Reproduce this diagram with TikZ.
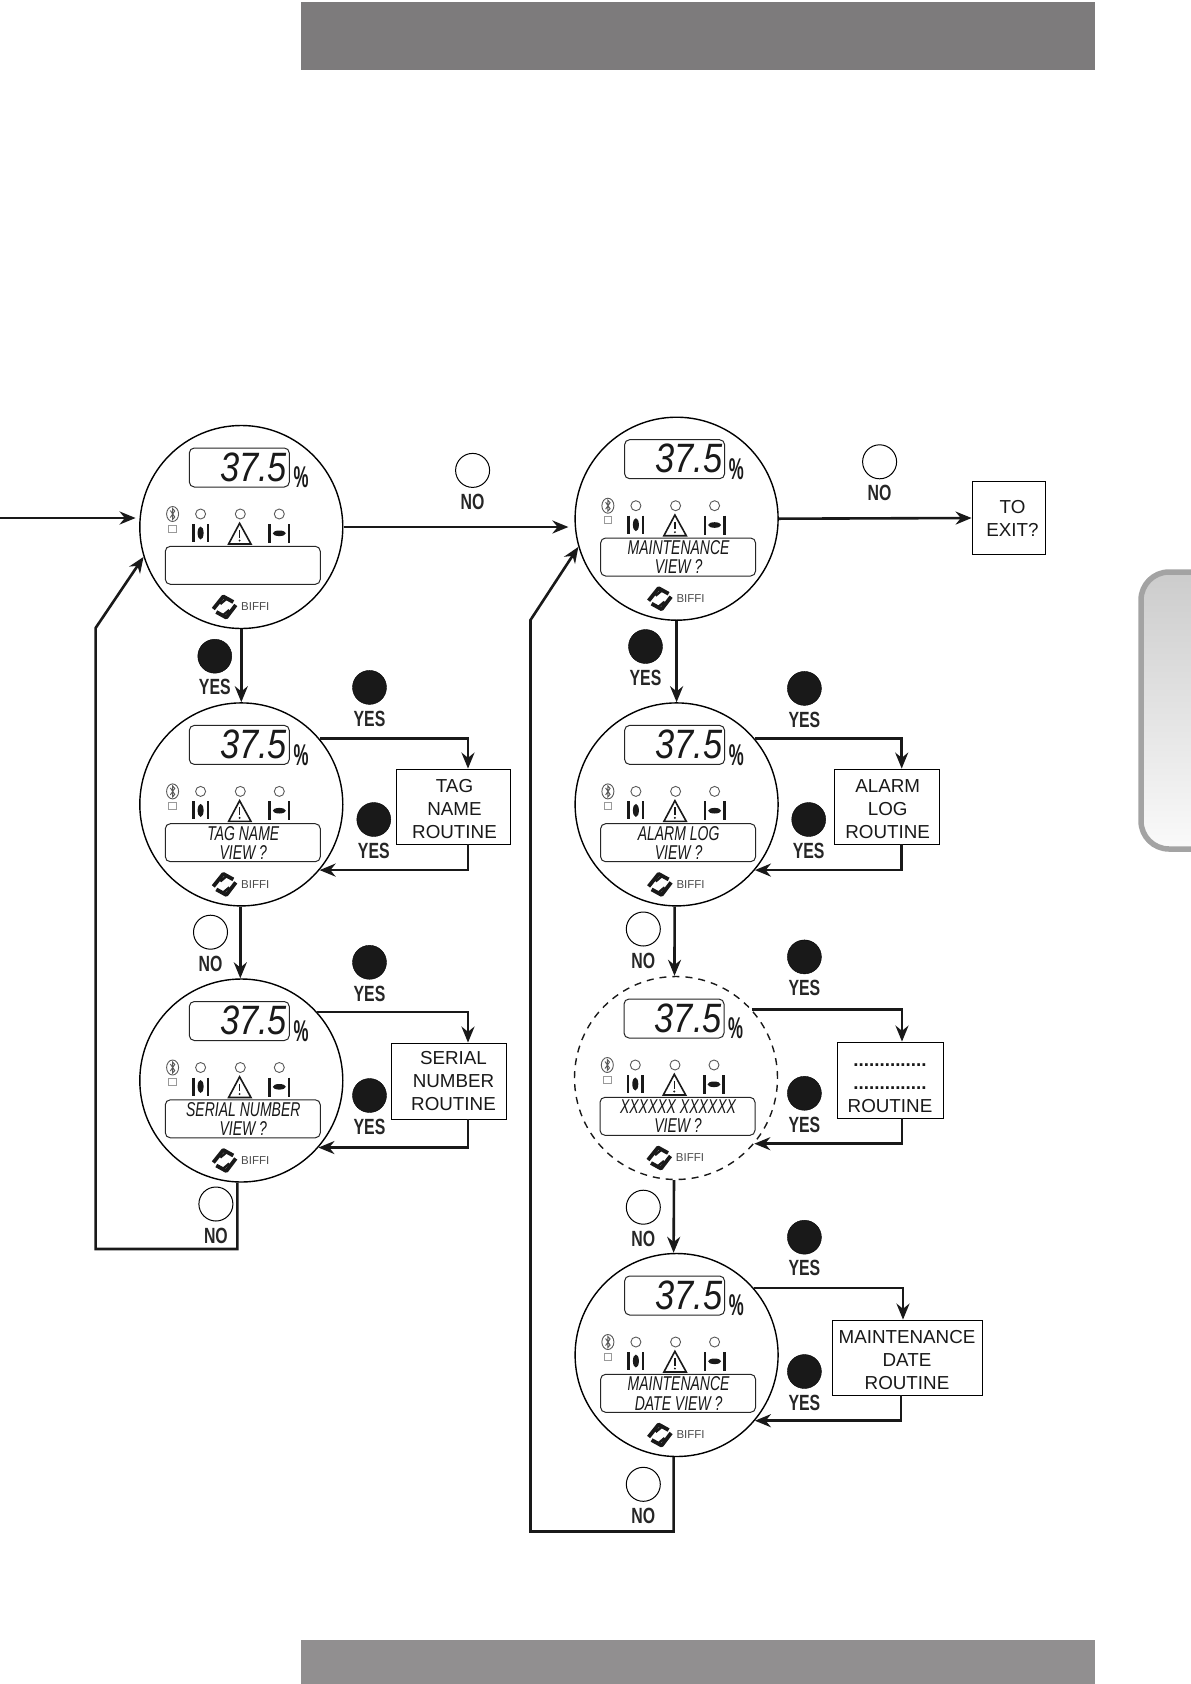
\documentclass[tikz,border=0pt]{standalone}
\usepackage{fontspec}
\setmainfont{Liberation Sans}
\newfontfamily\lcdfont[FakeStretch=0.7,UprightFont=* Italic]{Liberation Sans}
\newfontfamily\readoutfont[FakeStretch=0.84,UprightFont=* Italic]{Liberation Sans}
\newfontfamily\answerfont[FakeStretch=0.72,UprightFont=* Bold]{Liberation Sans}
\newfontfamily\unitfont[FakeStretch=0.56,UprightFont=* Bold]{Liberation Sans}
\usetikzlibrary{arrows.meta, calc}
\definecolor{banner}{HTML}{7D7B7C}
\definecolor{tabedge}{HTML}{A3A3A3}
\newcommand{\boxtop}{\rule{0pt}{17.5pt}}
\tikzset{
    dialface/.style={
        circle,
        draw=black,
        fill=white,
        line width=1.4pt,
        minimum size=203pt,
        inner sep=0pt
    },
    lcd/.style={
        draw=black!85,
        line width=1pt,
        rounded corners=5pt
    },
    led/.style={
        draw=black!65,
        line width=0.9pt
    },
    icon/.style={
        draw=black!90,
        line width=2.5pt
    },
    yesdot/.style={
        circle,
        draw=black,
        fill=black!90,
        minimum size=34pt,
        inner sep=0pt,
        label={[answer,label distance=6pt]below:YES}
    },
    nodot/.style={
        circle,
        draw=black,
        fill=white,
        line width=1pt,
        minimum size=34pt,
        inner sep=0pt,
        label={[answer,label distance=6pt]below:NO}
    },
    answer/.style={
        font=\answerfont\fontsize{22}{22}\selectfont,
        text=black!85,
        inner sep=0pt
    },
    routine/.style={
        draw=black,
        fill=white,
        line width=0.8pt,
        align=center,
        inner sep=0pt,
        text=black!90,
        font=\fontsize{18.8}{23}\selectfont
    },
    flow/.style={
        -{Stealth[length=16pt,width=13pt]},
        line width=2.6pt,
        draw=black!90,
        line join=miter
    },
    pics/dial/.style 2 args={
        code={
            \node[dialface] (-face) at (0,0) {};
            \draw[lcd] (-52,-79) rectangle (48,-40);
            \node[anchor=base east, font=\readoutfont\fontsize{41}{41}\selectfont, text=black!90, inner sep=0pt] (-value) at (46,-46) {37.5};
            \node[font=\unitfont\fontsize{30}{30}\selectfont, text=black!90, inner sep=0pt] (-unit) at (59.7,-49.7) {\%};
            % status row
            \draw[led] (-68.7,-13) ellipse (6 and 7.5);
            \draw[led] (-71,-16.5) -- (-66.5,-10) -- (-68.7,-7.5) -- (-68.7,-18.5) -- (-66.5,-16) -- (-71,-9.5);
            \draw[led, draw=black!40] (-72.5,-2) rectangle (-65,5);
            \draw[led] (-40.7,-13) circle (5);
            \draw[led] (-1,-13) circle (5);
            \draw[led] (38,-13) circle (5);
            \draw[icon] (-48,-3) -- (-48,15);
            \draw[icon] (-33.5,-3) -- (-33.5,15);
            \fill[black!90] (-40.7,6) ellipse (3 and 6.5);
            \draw[icon, line width=1.6pt, line join=miter] (-1.7,-3.7) -- (9.7,17) -- (-12.7,17) -- cycle;
            \draw[icon, line width=1.4pt] (-1.7,3) -- (-1.7,10.5);
            \fill[black!90] (-1.7,13.5) circle (1.1);
            \draw[icon] (28.3,-3) -- (28.3,16);
            \draw[icon] (47.7,-3) -- (47.7,16);
            \fill[black!90] (38,6.3) ellipse (6.5 and 2.8);
            % message window
            \draw[lcd] (-76,19.3) rectangle (79,57.3);
            \node[font=\lcdfont\fontsize{20}{20}\selectfont, text=black!90, inner sep=0pt] (-top) at (2,29) {#1};
            \node[font=\lcdfont\fontsize{20}{20}\selectfont, text=black!90, inner sep=0pt] (-bottom) at (2,48) {#2};
            % logo
            \draw[black!90, line width=3.8pt, line join=round] (-28,82) -- (-18,69.5) -- (-8,75);
            \draw[black!90, line width=3.8pt, line join=round] (-5.5,78) -- (-15,90.5) -- (-25,85);
            \draw[black!90, line width=2.4pt] (-21,77) -- (-15,72);
            \draw[black!90, line width=2.4pt] (-12,83) -- (-18,88);
            \node[font=\fontsize{11.5}{12}\selectfont, text=black!70, inner sep=0pt] (-brand) at (14,80) {BIFFI};
        }
    }
}

\begin{document}
\begin{tikzpicture}[x=1pt,y=-1pt]
    \useasboundingbox (0,0) rectangle (1191,1684);

    % page furniture
    \fill[banner] (301,2) rectangle (1095,70);
    \fill[banner!85!white] (301,1640) rectangle (1095,1684);
    \draw[tabedge, line width=5.5pt, top color=black!20, bottom color=black!2, rounded corners=28pt] (1200,572) -- (1141,572) -- (1141,849) -- (1200,849);

    % dials
    \pic (status) at (241.3,527) {dial={}{}};
    \pic (tag) at (241.3,804.4) {dial={TAG NAME}{VIEW ?}};
    \pic (serial) at (241.3,1080.5) {dial={SERIAL NUMBER}{VIEW ?}};
    \pic (maint) at (676.6,518.7) {dial={MAINTENANCE}{VIEW ?}};
    \pic (alarm) at (676.6,804.4) {dial={ALARM LOG}{VIEW ?}};
    \pic[dialface/.append style={dashed, draw=black!90, dash pattern=on 7pt off 6pt}] (custom) at (676,1078) {dial={XXXXXX XXXXXX}{VIEW ?}};
    \pic (date) at (676.6,1355) {dial={MAINTENANCE}{DATE VIEW ?}};

    % routine boxes
    \node[routine, minimum width=114pt, minimum height=75pt] (tagbox) at (453,806.5) {\boxtop\hspace*{3pt}TAG\\\hspace*{3pt}NAME\\\hspace*{3pt}ROUTINE};
    \node[routine, minimum width=115pt, minimum height=76pt] (serialbox) at (448.5,1081) {\hspace*{10pt}SERIAL\\\hspace*{10pt}NUMBER\\\hspace*{10pt}ROUTINE};
    \node[routine, minimum width=104.5pt, minimum height=75pt] (alarmbox) at (886.7,806.5) {\boxtop\hspace*{2pt}ALARM\\\hspace*{2pt}LOG\\\hspace*{2pt}ROUTINE};
    \node[routine, minimum width=106pt, minimum height=76pt] (custombox) at (890,1080) {\rule{0pt}{19.5pt}\textbf{..............}\\\textbf{..............}\\ROUTINE};
    \node[routine, minimum width=150pt, minimum height=75pt] (datebox) at (907,1357.5) {\boxtop MAINTENANCE\\DATE\\ROUTINE};
    \node[routine, minimum width=73pt, minimum height=73pt] (exitbox) at (1008.5,518) {\hspace*{8pt}TO\\\hspace*{8pt}EXIT?};

    % push button marks
    \node[yesdot] (yes1) at (214.8,656.2) {};
    \node[yesdot] (yes2) at (369.5,687.4) {};
    \node[yesdot] (yes3) at (373.8,819.5) {};
    \node[yesdot] (yes4) at (369.5,962.3) {};
    \node[yesdot] (yes5) at (369.5,1095.5) {};
    \node[yesdot] (yes6) at (645.5,646.5) {};
    \node[yesdot] (yes7) at (804.4,688.4) {};
    \node[yesdot] (yes8) at (808.7,819.5) {};
    \node[yesdot] (yes9) at (804.4,956.9) {};
    \node[yesdot] (yes10) at (804.4,1093.3) {};
    \node[yesdot] (yes11) at (804.4,1237.2) {};
    \node[yesdot] (yes12) at (804.4,1371.5) {};
    \node[nodot] (no1) at (472.6,470.4) {};
    \node[nodot] (no2) at (879.6,461.8) {};
    \node[nodot] (no3) at (210.5,932.2) {};
    \node[nodot] (no4) at (215.9,1204) {};
    \node[nodot] (no5) at (643.3,929) {};
    \node[nodot] (no6) at (643.3,1207.2) {};
    \node[nodot] (no7) at (643.3,1484.3) {};

    % free ends and bends
    \coordinate (entry) at (0,518);
    \coordinate (leftlow) at (95.6,1249);
    \coordinate (lefthigh) at (95.6,628);
    \coordinate (rightlow) at (530.5,1531.5);
    \coordinate (righthigh) at (530.5,620);

    % main paths
    \draw[flow] (entry) -- ($(status-face.west |- entry)+(-3.5,0)$);
    \draw[flow] (status-face.east) -- ($(maint-face.west |- status-face.east)+(-6,0)$);
    \draw[flow] (maint-face.east) -- (exitbox.west);
    \draw[flow] (status-face.south) -- (tag-face.north);
    \draw[flow] ([xshift=-1pt]tag-face.south) -- ([xshift=-1pt]serial-face.north);
    \draw[flow] (maint-face.south) -- (alarm-face.north);
    \draw[flow] ([xshift=-2pt]alarm-face.south) -- ([xshift=-1.5pt]custom-face.north);
    \draw[flow] ([xshift=-2pt]custom-face.south) -- ([xshift=-3pt]date-face.north);
    \draw[flow] ([xshift=-4pt]serial-face.south) |- (leftlow) -- (lefthigh) -- (status-face.197);
    \draw[flow] ([xshift=-3pt]date-face.south) |- (rightlow) -- (righthigh) -- (maint-face.196);

    % routine loops
    \draw[flow] (tag-face.40) -| ([xshift=15pt]tagbox.north);
    \draw[flow] ([xshift=15pt]tagbox.south) |- (tag-face.-40);
    \draw[flow] (serial-face.42) -| ([xshift=19.5pt]serialbox.north);
    \draw[flow] ([xshift=19.5pt]serialbox.south) |- (serial-face.-41);
    \draw[flow] (alarm-face.40) -| ([xshift=15pt]alarmbox.north);
    \draw[flow] ([xshift=15pt]alarmbox.south) |- (alarm-face.-40);
    \draw[flow] (custom-face.42) -| ([xshift=12pt]custombox.north);
    \draw[flow] ([xshift=12pt]custombox.south) |- (custom-face.-40);
    \draw[flow] (date-face.41) -| ([xshift=-4pt]datebox.north);
    \draw[flow] ([xshift=-6pt]datebox.south) |- (date-face.-40);
\end{tikzpicture}
\end{document}
